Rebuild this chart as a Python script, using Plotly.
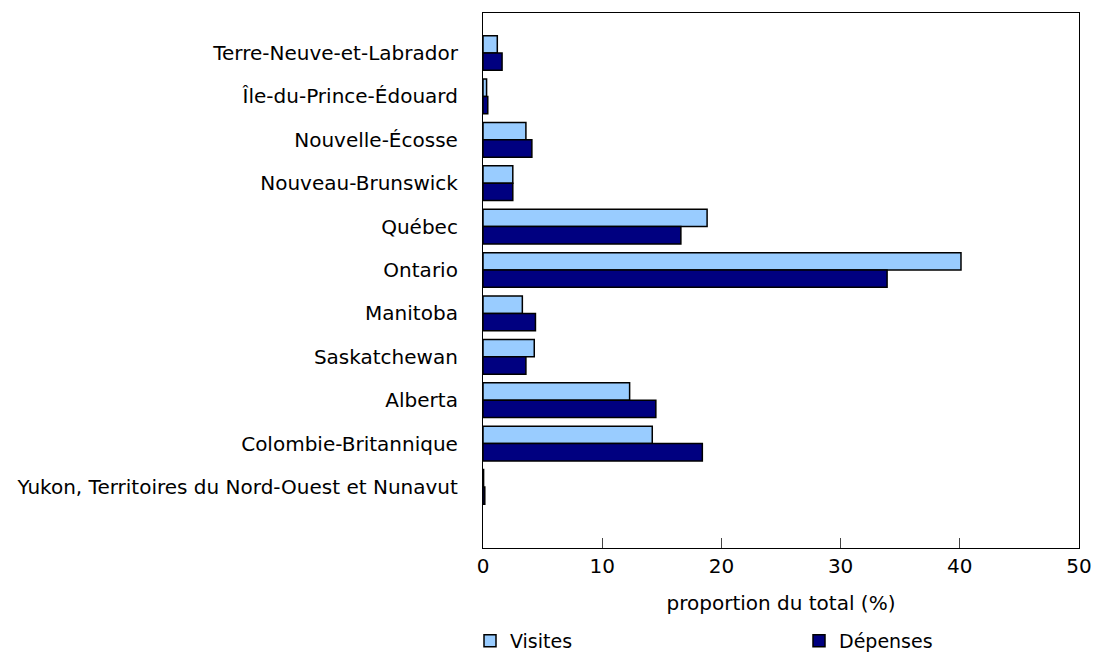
import plotly.graph_objects as go

categories = ["Terre-Neuve-et-Labrador", "Île-du-Prince-Édouard", "Nouvelle-Écosse",
              "Nouveau-Brunswick", "Québec", "Ontario", "Manitoba", "Saskatchewan",
              "Alberta", "Colombie-Britannique",
              "Yukon, Territoires du Nord-Ouest et Nunavut"]
visites = [1.2, 0.3, 3.6, 2.5, 18.8, 40.1, 3.3, 4.3, 12.3, 14.2, 0.05]
depenses = [1.6, 0.4, 4.1, 2.5, 16.6, 33.9, 4.4, 3.6, 14.5, 18.4, 0.15]
x_ticks = [0, 10, 20, 30, 40, 50]

font = "Verdana, DejaVu Sans, sans-serif"
fs = 20

fig = go.Figure()
fig.add_trace(go.Bar(y=categories, x=visites, name="Visites", orientation="h",
                     legend="legend",
                     marker=dict(color="#99CCFF", line=dict(color="black", width=1.5))))
fig.add_trace(go.Bar(y=categories, x=depenses, name="Dépenses", orientation="h",
                     legend="legend2",
                     marker=dict(color="#000080", line=dict(color="black", width=1.5))))

leg_common = dict(xref="container", yref="container", yanchor="top", xanchor="left",
                  y=1 - 622 / 655, font=dict(size=19, family=font), bgcolor="rgba(0,0,0,0)",
                  borderwidth=0, itemwidth=30)

fig.update_layout(
    width=1093, height=655,
    barmode="group", bargap=0.2, bargroupgap=0,
    plot_bgcolor="white", paper_bgcolor="white",
    font=dict(family=font, size=fs, color="black"),
    margin=dict(l=483, r=14, t=13, b=107, autoexpand=False),
    showlegend=True,
    legend=dict(x=(483 - 13) / 1093, **leg_common),
    legend2=dict(x=(812 - 13) / 1093, **leg_common),
    xaxis=dict(range=[0, 50], tickvals=x_ticks, ticks="inside", ticklen=10,
               tickfont=dict(size=fs, family=font),
               showline=True, linecolor="black", linewidth=1.2, mirror=True,
               showgrid=False, zeroline=False,
               title=dict(text="proportion du total (%)", standoff=18,
                          font=dict(size=fs, family=font))),
    yaxis=dict(range=[11.406, -0.922], showline=True, linecolor="black", linewidth=1.2,
               mirror=True, showgrid=False, ticks="", ticklabelstandoff=20,
               tickfont=dict(size=fs, family=font)),
)

fig.write_html("out.html", config={"displayModeBar": False},
               post_script="document.body.style.margin='0';")
